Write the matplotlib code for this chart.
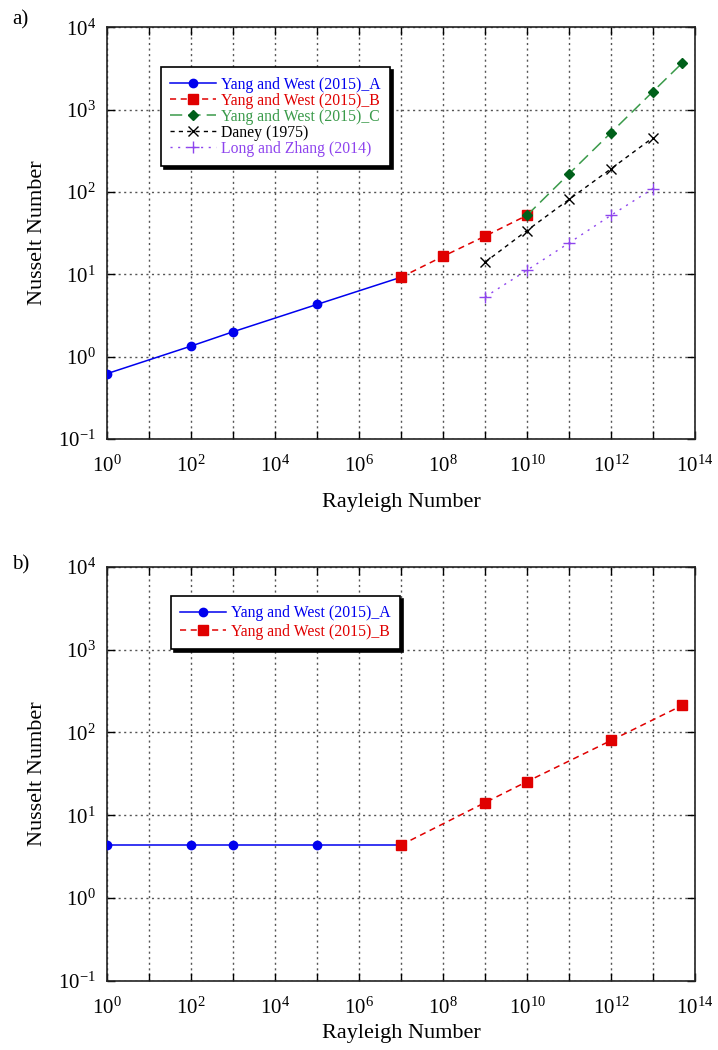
import math
import matplotlib
matplotlib.use("Agg")
import matplotlib.pyplot as plt
from matplotlib.ticker import FixedLocator, FuncFormatter, NullLocator

plt.rcParams['font.family'] = ['Liberation Serif', 'DejaVu Serif']
plt.rcParams['mathtext.fontset'] = 'custom'
plt.rcParams['mathtext.rm'] = 'Liberation Serif'
plt.rcParams['mathtext.it'] = 'Liberation Serif:italic'

# ---- data (panel a) ----
ra_a = [1e0, 1e2, 1e3, 1e5, 1e7]
nu_a = [0.62, 1.34, 2.0, 4.3, 9.2]
ra_b = [1e7, 1e8, 1e9, 1e10]
nu_b = [9.2, 16.5, 29, 52]
ra_c = [1e10, 1e11, 1e12, 1e13, 5e13]
nu_c = [52, 166, 525, 1660, 3700]
ra_d = [1e9, 1e10, 1e11, 1e12, 1e13]
nu_d = [14, 34, 81, 191, 457]
ra_l = [1e9, 1e10, 1e11, 1e12, 1e13]
nu_l = [5.3, 11.2, 24, 52, 110]

# ---- data (panel b) ----
ra_a2 = [1e0, 1e2, 1e3, 1e5, 1e7]
nu_a2 = [4.36, 4.36, 4.36, 4.36, 4.36]
ra_b2 = [1e7, 1e9, 1e10, 1e12, 5e13]
nu_b2 = [4.36, 14.2, 25.5, 80, 213]

labels_a = ["Yang and West (2015)_A", "Yang and West (2015)_B", "Yang and West (2015)_C",
            "Daney (1975)", "Long and Zhang (2014)"]

BLUE = '#0000ee'
RED = '#e00000'
GREEN_L = '#3a9a4a'
GREEN_M = '#00601a'
BLACK = '#000000'
PURPLE = '#8e44ee'

fig = plt.figure(figsize=(7.18, 10.5), dpi=100)
ax1 = fig.add_axes([0.149, 0.582, 0.819, 0.392])
ax2 = fig.add_axes([0.149, 0.066, 0.819, 0.394])

def xf(v, p):
    k = int(round(math.log10(v)))
    return r'$10^{%d}$' % k if k % 2 == 0 else ''

def yf(v, p):
    k = int(round(math.log10(v)))
    return r'$10^{%d}$' % k

def style(ax, xlabelpad):
    ax.set_xscale('log')
    ax.set_yscale('log')
    ax.set_xlim(1e0, 1e14)
    ax.set_ylim(1e-1, 1e4)
    ax.xaxis.set_major_locator(FixedLocator([10.0**k for k in range(0, 15)]))
    ax.xaxis.set_minor_locator(NullLocator())
    ax.yaxis.set_major_locator(FixedLocator([10.0**k for k in range(-1, 5)]))
    ax.yaxis.set_minor_locator(NullLocator())
    ax.xaxis.set_major_formatter(FuncFormatter(xf))
    ax.yaxis.set_major_formatter(FuncFormatter(yf))
    ax.tick_params(which='major', direction='in', length=6, width=1, top=True, right=True,
                   labelsize=15)
    ax.tick_params(axis='x', pad=12)
    ax.tick_params(axis='y', pad=8)
    ax.grid(True, which='major', linestyle=(0, (1.5, 2.5)), color='#555555', linewidth=1)
    for s in ax.spines.values():
        s.set_linewidth(1.2)
        s.set_color('#222222')
    ax.set_xlabel('Rayleigh Number', fontsize=16, labelpad=xlabelpad)
    ax.set_ylabel('Nusselt Number', fontsize=16, labelpad=8)

style(ax1, 12)
style(ax2, 4)

ax1.plot(ra_a, nu_a, '-', color=BLUE, marker='o', ms=6, lw=1.1, label=labels_a[0], zorder=5)
ax1.plot(ra_b, nu_b, color=RED, marker='s', ms=6.5, lw=1.1, dashes=(4, 3), label=labels_a[1], zorder=5)
ax1.plot(ra_c, nu_c, color=GREEN_L, marker='D', ms=5, mfc=GREEN_M, mec=GREEN_M, lw=1.1,
         dashes=(8, 4), label=labels_a[2], zorder=6)
ax1.plot(ra_d, nu_d, color=BLACK, marker='x', ms=7, mew=1.0, lw=1.0, dashes=(3, 3),
         label=labels_a[3], zorder=5)
ax1.plot(ra_l, nu_l, color=PURPLE, marker='+', ms=9, mew=1.0, lw=1.0, dashes=(1.5, 4),
         label=labels_a[4], zorder=5)

def make_legend(ax, anchor, colors, spacing):
    leg = ax.legend(loc='upper left', bbox_to_anchor=anchor, borderaxespad=0,
                    fontsize=11.3, frameon=True, fancybox=False,
                    shadow={'color': 'black', 'alpha': 1.0}, handlelength=2.9,
                    labelspacing=spacing, borderpad=0.6, handletextpad=0.3, framealpha=1)
    leg.get_frame().set_edgecolor('black')
    leg.get_frame().set_linewidth(1.2)
    for t, c in zip(leg.get_texts(), colors):
        t.set_color(c)
    return leg

make_legend(ax1, (0.092, 0.903), [BLUE, RED, GREEN_L, BLACK, PURPLE], 0.0)

ax2.plot(ra_a2, nu_a2, '-', color=BLUE, marker='o', ms=6, lw=1.1, label=labels_a[0], zorder=5)
ax2.plot(ra_b2, nu_b2, color=RED, marker='s', ms=6.5, lw=1.1, dashes=(4, 3), label=labels_a[1], zorder=5)
make_legend(ax2, (0.109, 0.930), [BLUE, RED], 0.15)

fig.text(12 / 718, 1 - 20 / 1050, 'a)', fontsize=15, va='center', ha='left')
fig.text(12 / 718, 1 - 565 / 1050, 'b)', fontsize=15, va='center', ha='left')

fig.savefig('out.png', dpi=100)
